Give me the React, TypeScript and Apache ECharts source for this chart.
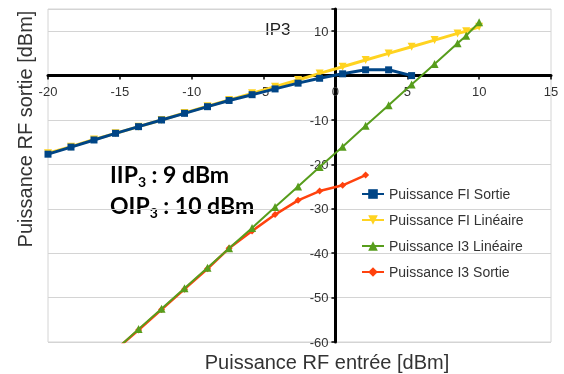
import React, { useEffect, useRef } from "react";
import * as echarts from "echarts";

// Input power (dBm) of each measurement
const xFI = [-20, -18.4, -16.8, -15.3, -13.7, -12.1, -10.5, -8.9, -7.4, -5.8, -4.2, -2.6, -1.1, 0.5, 2.1, 3.7, 5.3];
const fiSortie = [-17.7, -16.1, -14.5, -13.0, -11.5, -10.0, -8.5, -7.0, -5.6, -4.3, -3.0, -1.7, -0.6, 0.4, 1.3, 1.3, 0.0];

const xFILin = [-20, -18.4, -16.8, -15.3, -13.7, -12.1, -10.5, -8.9, -7.4, -5.8, -4.2, -2.6, -1.1, 0.5, 2.1, 3.7, 5.3, 6.9, 8.5, 9.1, 10.0];
const fiLineaire = [-17.5, -16.0, -14.4, -13.0, -11.5, -10.0, -8.4, -6.9, -5.5, -4.0, -2.5, -1.0, 0.5, 2.0, 3.5, 5.0, 6.5, 8.0, 9.5, 10.0, 11.0];

const xI3Lin = [-15.3, -13.7, -12.1, -10.5, -8.9, -7.4, -5.8, -4.2, -2.6, -1.1, 0.5, 2.1, 3.7, 5.3, 6.9, 8.5, 9.1, 10.0];
const i3Lineaire = [-61.8, -57.1, -52.5, -47.9, -43.3, -38.9, -34.3, -29.6, -25.0, -20.6, -16.0, -11.3, -6.7, -2.0, 2.6, 7.3, 9.0, 12.0];

const xI3Sortie = [-15.3, -13.7, -12.1, -10.5, -8.9, -7.4, -5.8, -4.2, -2.6, -1.1, 0.5, 2.1];
const i3Sortie = [-61.8, -57.3, -52.7, -48.1, -43.5, -38.9, -35.0, -31.3, -28.1, -26.0, -24.7, -22.4];

const seriesNames = ["Puissance FI Sortie", "Puissance FI Linéaire", "Puissance I3 Linéaire", "Puissance I3 Sortie"];
const xAxisTitle = "Puissance RF entrée [dBm]";
const yAxisTitle = "Puissance RF sortie [dBm]";

const X_MIN = -20, X_MAX = 15, Y_MIN = -60, Y_MAX = 15;

const zip = (xs: number[], ys: number[]) => xs.map((x, i) => [x, ys[i]]);

export default function App() {
  const ref = useRef<HTMLDivElement>(null);
  useEffect(() => {
    if (!ref.current) return;
    const W = 564, H = 374;
    const gl = 48, gr = 13, gt = 9, gb = 32;
    const gw = W - gl - gr, gh = H - gt - gb;
    // offsets that bring the axes to the zero crossing (axes cross at 0,0)
    const yAxisOffset = -(gw * (0 - X_MIN)) / (X_MAX - X_MIN);
    const xAxisOffset = -(gh * (0 - Y_MIN)) / (Y_MAX - Y_MIN);

    const chart = echarts.init(ref.current, null, { renderer: "svg" });
    const font = "'Liberation Sans', Arial, sans-serif";
    const richMain = { fontSize: 23, fontWeight: "bold", fontFamily: "Lato", fill: "#000", color: "#000", lineHeight: 28 };
    const richSub = { fontSize: 14, fontWeight: "bold", fontFamily: "Lato", fill: "#000", color: "#000", lineHeight: 11, verticalAlign: "bottom" };
    chart.setOption({
      animation: false,
      textStyle: { fontFamily: font },
      grid: { left: gl, right: gr, top: gt, bottom: gb, show: true, borderColor: "#d4d4d4", borderWidth: 1 },
      legend: {
        orient: "vertical",
        left: 356,
        top: 182,
        itemGap: 12,
        itemWidth: 22,
        itemHeight: 12,
        data: seriesNames,
        textStyle: { fontSize: 14, color: "#333", fontFamily: font },
      },
      xAxis: {
        type: "value",
        min: X_MIN,
        max: X_MAX,
        interval: 5,
        position: "bottom",
        offset: xAxisOffset,
        axisLine: { onZero: false, lineStyle: { color: "#000", width: 3 } },
        axisTick: { show: true, length: 4, lineStyle: { color: "#000", width: 1.5 } },
        axisLabel: { fontSize: 13, color: "#333", margin: 9, fontFamily: font },
        splitLine: { show: false },
      },
      yAxis: {
        type: "value",
        min: Y_MIN,
        max: Y_MAX,
        interval: 10,
        position: "left",
        offset: yAxisOffset,
        axisLine: { show: true, onZero: false, lineStyle: { color: "#000", width: 3 } },
        axisTick: { show: true, length: 4, lineStyle: { color: "#000", width: 1.5 } },
        axisLabel: {
          fontSize: 13,
          color: "#333",
          margin: 7,
          fontFamily: font,
          formatter: (v: number) => (v === 0 || v === 15 ? "" : String(v)),
        },
        splitLine: { show: true, lineStyle: { color: "#d4d4d4", width: 1 } },
      },
      series: [
        {
          name: seriesNames[1],
          type: "line",
          data: zip(xFILin, fiLineaire),
          color: "#ffd320",
          symbol: "triangle",
          symbolRotate: 180,
          symbolSize: 8,
          lineStyle: { width: 3, color: "#ffd320" },
          itemStyle: { color: "#ffd320" },
          clip: true,
          z: 2,
        },
        {
          name: seriesNames[0],
          type: "line",
          data: zip(xFI, fiSortie),
          color: "#004586",
          symbol: "rect",
          symbolSize: 7,
          lineStyle: { width: 3, color: "#004586" },
          itemStyle: { color: "#004586" },
          clip: true,
          z: 3,
        },
        {
          name: seriesNames[3],
          type: "line",
          data: zip(xI3Sortie, i3Sortie),
          color: "#ff420e",
          symbol: "diamond",
          symbolSize: 7,
          lineStyle: { width: 2.5, color: "#ff420e" },
          itemStyle: { color: "#ff420e" },
          clip: true,
          z: 4,
        },
        {
          name: seriesNames[2],
          type: "line",
          data: zip(xI3Lin, i3Lineaire),
          color: "#579d1c",
          symbol: "triangle",
          symbolSize: 8,
          lineStyle: { width: 2, color: "#579d1c" },
          itemStyle: { color: "#579d1c" },
          clip: true,
          z: 5,
        },
      ],
      graphic: [
        {
          type: "text",
          x: 25,
          y: 129,
          rotation: Math.PI / 2,
          style: { text: yAxisTitle, fontSize: 20, fontFamily: font, fill: "#333", align: "center", verticalAlign: "middle" },
        },
        {
          type: "text",
          x: 327,
          y: 362,
          style: { text: xAxisTitle, fontSize: 20, fontFamily: font, fill: "#333", align: "center", verticalAlign: "middle" },
        },
        {
          type: "text",
          x: 265,
          y: 29,
          style: { text: "IP3", fontSize: 17, fontFamily: font, fill: "#222", align: "left", verticalAlign: "middle" },
        },
        {
          type: "text",
          x: 110,
          y: 174,
          style: {
            text: "{a|IIP}{s|3}{a| : 9 dBm}",
            align: "left",
            verticalAlign: "middle",
            rich: { a: richMain, s: richSub },
          },
        },
        {
          type: "text",
          x: 110,
          y: 205,
          style: {
            text: "{a|OIP}{s|3}{a| : 10 dBm}",
            align: "left",
            verticalAlign: "middle",
            rich: { a: richMain, s: richSub },
          },
        },
      ],
    });
    return () => chart.dispose();
  }, []);
  return <div ref={ref} style={{ position: "fixed", left: 0, top: 0, width: 564, height: 374 }} />;
}
